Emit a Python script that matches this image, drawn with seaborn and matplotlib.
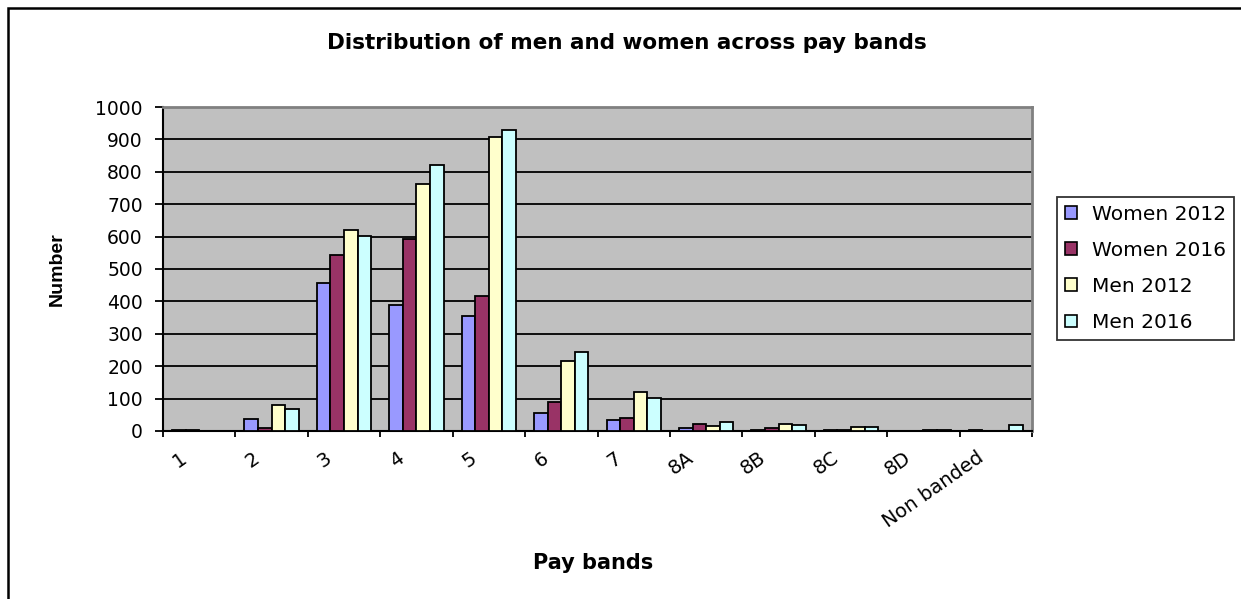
import matplotlib
matplotlib.use("Agg")
import matplotlib.pyplot as plt
from matplotlib.patches import Patch, Rectangle
import seaborn as sns
import pandas as pd
import numpy as np

# ---- data ----
categories = ['1', '2', '3', '4', '5', '6', '7', '8A', '8B', '8C', '8D', 'Non banded']
women_2012 = [3, 38, 458, 390, 355, 57, 33, 10, 3, 3, 0, 3]
women_2016 = [3, 10, 542, 593, 416, 91, 40, 23, 10, 3, 0, 0]
men_2012 = [0, 79, 620, 761, 907, 215, 120, 16, 23, 11, 2, 0]
men_2016 = [0, 67, 603, 822, 928, 244, 101, 28, 17, 11, 2, 18]
series_names = ['Women 2012', 'Women 2016', 'Men 2012', 'Men 2016']
y_ticks = [0, 100, 200, 300, 400, 500, 600, 700, 800, 900, 1000]

colors = ['#9999FF', '#993366', '#FFFFCC', '#CCFFFF']

rows = []
for name, vals in zip(series_names, [women_2012, women_2016, men_2012, men_2016]):
    for c, v in zip(categories, vals):
        rows.append({'band': c, 'series': name, 'value': v})
df = pd.DataFrame(rows)

sns.set_theme(style='white')
plt.rcParams['font.family'] = ['DejaVu Sans']
for k in ['text.color', 'axes.labelcolor', 'xtick.color', 'ytick.color']:
    plt.rcParams[k] = 'black'

W, H = 1241, 599
fig = plt.figure(figsize=(W / 100, H / 100), dpi=100)
ax = fig.add_axes([163 / W, 1 - 431 / H, (1032 - 163) / W, (431 - 107) / H])
ax.set_facecolor('#C0C0C0')

sns.barplot(data=df, x='band', y='value', hue='series', order=categories,
            hue_order=series_names, palette=colors, width=0.75, gap=0,
            edgecolor='black', linewidth=1.3, saturation=1, ax=ax,
            legend=False, errorbar=None, zorder=3)

ax.set_ylim(0, 1000)
ax.set_xlim(-0.5, len(categories) - 0.5)
ax.set_yticks(y_ticks)
ax.set_yticklabels([str(t) for t in y_ticks], fontsize=13.5)
for t in y_ticks[1:-1]:
    ax.axhline(t, color='black', lw=1.3, zorder=1)

# category labels sit a little left of each category centre (Excel style)
label_pos = np.arange(len(categories)) - 0.2
ax.set_xticks(label_pos)
ax.set_xticklabels(categories, rotation=35, ha='right', va='center',
                   rotation_mode='anchor', fontsize=14)
ax.set_xticks(np.arange(-0.5, len(categories)), minor=True)
ax.tick_params(axis='x', which='major', length=0, pad=18)
ax.tick_params(axis='x', which='minor', length=4.5, width=1.3, color='black',
               direction='out', bottom=True)
ax.tick_params(axis='y', length=6, width=1.3, color='black', direction='out',
               left=True, pad=8.5)
ax.set_xlabel('')
ax.set_ylabel('')

for side in ['left', 'bottom']:
    ax.spines[side].set_color('black')
    ax.spines[side].set_linewidth(1.5)
for side in ['top', 'right']:
    ax.spines[side].set_color('#808080')
    ax.spines[side].set_linewidth(2)
for s in ax.spines.values():
    s.set_visible(True)

fig.text(627 / W, 1 - 43 / H, 'Distribution of men and women across pay bands',
         ha='center', va='center', fontsize=15.5, fontweight='bold')
fig.text(593 / W, 1 - 563 / H, 'Pay bands', ha='center', va='center',
         fontsize=15, fontweight='bold')
fig.text(57 / W, 1 - 269 / H, 'Number', ha='center', va='center', rotation=90,
         fontsize=14, fontweight='bold', family='Liberation Sans')

handles = [Patch(facecolor=c, edgecolor='black', linewidth=1.2, label=n)
           for c, n in zip(colors, series_names)]
leg = fig.legend(handles=handles, loc='upper left',
                 bbox_to_anchor=(1057 / W, 1 - 197 / H), bbox_transform=fig.transFigure,
                 frameon=True, fancybox=False, fontsize=14.5, handlelength=0.6,
                 handleheight=0.6, handletextpad=0.75, labelspacing=0.85,
                 borderpad=0.38, borderaxespad=0)
leg.get_frame().set_edgecolor('black')
leg.get_frame().set_linewidth(1.3)
leg.get_frame().set_facecolor('white')

fig.patches.append(Rectangle((8 / W, -0.1), 1.2, 1 - 8 / H + 0.1, fill=False,
                             edgecolor='black', linewidth=1.8,
                             transform=fig.transFigure, figure=fig))

fig.savefig('out.png', dpi=100, facecolor='white')
